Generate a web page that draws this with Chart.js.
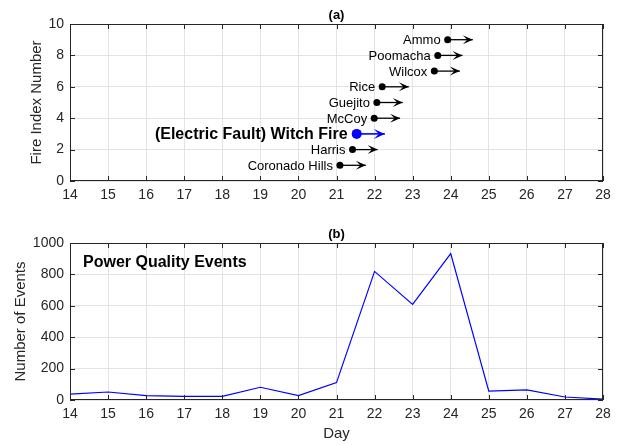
<!DOCTYPE html>
<html>
<head>
<meta charset="utf-8">
<script src="https://cdn.jsdelivr.net/npm/chart.js@4.4.1/dist/chart.umd.min.js"></script>
<style>
    body { margin: 0; background: #fff; width: 623px; height: 445px; position: relative; overflow: hidden; }
    canvas { position: absolute; left: 0; }
</style>
</head>
<body>
<canvas id="chartFeux" width="623" height="210" style="top:0"></canvas>
<canvas id="chartEvenements" width="623" height="240" style="top:205px"></canvas>
<script>
// Panneau (a) : feux
const fireNames = ["Coronado Hills", "Harris", "(Electric Fault) Witch Fire", "McCoy", "Guejito", "Rice", "Wilcox", "Poomacha", "Ammo"];
const fireIndex = [1, 2, 3, 4, 5, 6, 7, 8, 9];
const fireStart = [21.09, 21.42, 21.53, 21.99, 22.06, 22.2, 23.57, 23.66, 23.92];
const fireEnd = [21.77, 22.08, 22.27, 22.67, 22.74, 22.9, 24.24, 24.31, 24.58];
const witchName = "(Electric Fault) Witch Fire";

// Panneau (b) : evenements
const days = [14, 15, 16, 17, 18, 19, 20, 21, 22, 23, 24, 25, 26, 27, 28];
const events = [38, 51, 28, 23, 23, 81, 28, 111, 819, 609, 932, 57, 64, 19, 6];

const police = "'Liberation Sans', Arial, Helvetica, sans-serif";
const gris = "#262626";
const grille = "#e3e3e3";

// cadre + petites graduations vers l'interieur (style MATLAB)
const cadre = {
    id: "cadre",
    afterDraw(chart) {
        const { ctx, chartArea: a, scales } = chart;
        ctx.save();
        ctx.strokeStyle = gris;
        ctx.lineWidth = 1;
        ctx.strokeRect(a.left + 0.5, a.top + 0.5, a.width - 1, a.height - 1);
        ctx.beginPath();
        scales.x.ticks.forEach(t => {
            const px = Math.round(scales.x.getPixelForValue(t.value)) + 0.5;
            ctx.moveTo(px, a.bottom); ctx.lineTo(px, a.bottom - 5);
            ctx.moveTo(px, a.top); ctx.lineTo(px, a.top + 5);
        });
        scales.y.ticks.forEach(t => {
            const py = Math.round(scales.y.getPixelForValue(t.value)) + 0.5;
            ctx.moveTo(a.left, py); ctx.lineTo(a.left + 5, py);
            ctx.moveTo(a.right, py); ctx.lineTo(a.right - 5, py);
        });
        ctx.stroke();
        ctx.restore();
    }
};

// titre (a) / (b) et texte libre
const titre = {
    id: "titre",
    afterDraw(chart, args, opts) {
        const { ctx, chartArea: a } = chart;
        ctx.save();
        ctx.fillStyle = "#000";
        ctx.font = "bold 13px " + police;
        ctx.textAlign = "center";
        ctx.textBaseline = "bottom";
        ctx.fillText(opts.text, (a.left + a.right) / 2, a.top - 2);
        if (opts.note) {
            ctx.font = "bold 16px " + police;
            ctx.textAlign = "left";
            ctx.textBaseline = "middle";
            ctx.fillText(opts.note, a.left + 13, a.top + 20);
        }
        ctx.restore();
    }
};

// fleches et noms des feux
const fleches = {
    id: "fleches",
    beforeDatasetsDraw(chart) {
        const { ctx, scales: { x, y } } = chart;
        ctx.save();
        fireNames.forEach((nom, i) => {
            const witch = nom === witchName;
            const x0 = x.getPixelForValue(fireStart[i]);
            const x1 = x.getPixelForValue(fireEnd[i]);
            const py = y.getPixelForValue(fireIndex[i]);
            const h = witch ? 11 : 10, w = witch ? 5 : 4.5;
            ctx.strokeStyle = witch ? "#0000ff" : "#000";
            ctx.fillStyle = ctx.strokeStyle;
            ctx.lineWidth = witch ? 1.6 : 1.3;
            ctx.beginPath();
            ctx.moveTo(x0, py); ctx.lineTo(x1, py);
            ctx.stroke();
            // pointe ouverte
            ctx.beginPath();
            ctx.moveTo(x1 - h, py - w);
            ctx.lineTo(x1, py);
            ctx.lineTo(x1 - h, py + w);
            ctx.lineTo(x1 - h * 0.55, py);
            ctx.closePath();
            ctx.fill();
        });
        ctx.restore();
    },
    afterDatasetsDraw(chart) {
        const { ctx, scales: { x, y } } = chart;
        ctx.save();
        ctx.textAlign = "right";
        ctx.textBaseline = "middle";
        fireNames.forEach((nom, i) => {
            const witch = nom === witchName;
            ctx.fillStyle = "#000";
            ctx.font = witch ? "bold 16px " + police : "13px " + police;
            ctx.fillText(nom, x.getPixelForValue(fireStart[i]) - (witch ? 9 : 7), y.getPixelForValue(fireIndex[i]) + 1);
        });
        ctx.restore();
    }
};

const axeX = (hauteur, titreX) => ({
    type: "linear", min: 14, max: 28,
    ticks: { stepSize: 1, color: gris, font: { family: police, size: 14 }, padding: 6 },
    grid: { color: grille, drawTicks: false },
    border: { display: false },
    title: titreX ? { display: true, text: titreX, color: gris, font: { family: police, size: 15 }, padding: { top: 0, bottom: 2 } } : { display: false },
    afterFit: s => { s.height = hauteur; }
});

const axeY = (min, max, pas, texte, decal) => ({
    min: min, max: max,
    ticks: { stepSize: pas, color: gris, font: { family: police, size: 14 }, padding: 6, callback: v => String(v) },
    grid: { color: grille, drawTicks: false },
    border: { display: false },
    title: { display: true, text: texte, color: gris, font: { family: police, size: 15 }, padding: { top: decal, bottom: 0 } },
    afterFit: s => { s.width = 70; }
});

const witchIdx = fireNames.indexOf(witchName);

new Chart(document.getElementById("chartFeux"), {
    type: "scatter",
    data: {
        datasets: [{
            data: fireStart.map((v, i) => ({ x: v, y: fireIndex[i] })).filter((p, i) => i !== witchIdx),
            backgroundColor: "#000",
            borderWidth: 0,
            pointRadius: 3.5
        }, {
            data: [{ x: fireStart[witchIdx], y: fireIndex[witchIdx] }],
            backgroundColor: "#0000ff",
            borderWidth: 0,
            pointRadius: 5
        }]
    },
    options: {
        responsive: false,
        animation: false,
        layout: { padding: { top: 24, right: 20, left: 0, bottom: 0 } },
        plugins: { legend: { display: false }, tooltip: { enabled: false }, titre: { text: "(a)" } },
        scales: {
            x: axeX(29),
            y: axeY(0, 10, 2, "Fire Index Number", 28)
        }
    },
    plugins: [fleches, cadre, titre]
});

new Chart(document.getElementById("chartEvenements"), {
    type: "line",
    data: {
        datasets: [{
            data: events.map((v, i) => ({ x: days[i], y: v })),
            borderColor: "#0000ff",
            borderWidth: 1.2,
            pointRadius: 0,
            tension: 0
        }]
    },
    options: {
        responsive: false,
        animation: false,
        layout: { padding: { top: 38, right: 20, left: 0, bottom: 0 } },
        plugins: { legend: { display: false }, tooltip: { enabled: false }, titre: { text: "(b)", note: "Power Quality Events" } },
        scales: {
            x: axeX(45, "Day"),
            y: axeY(0, 1000, 200, "Number of Events", 12)
        }
    },
    plugins: [cadre, titre]
});
</script>
</body>
</html>
